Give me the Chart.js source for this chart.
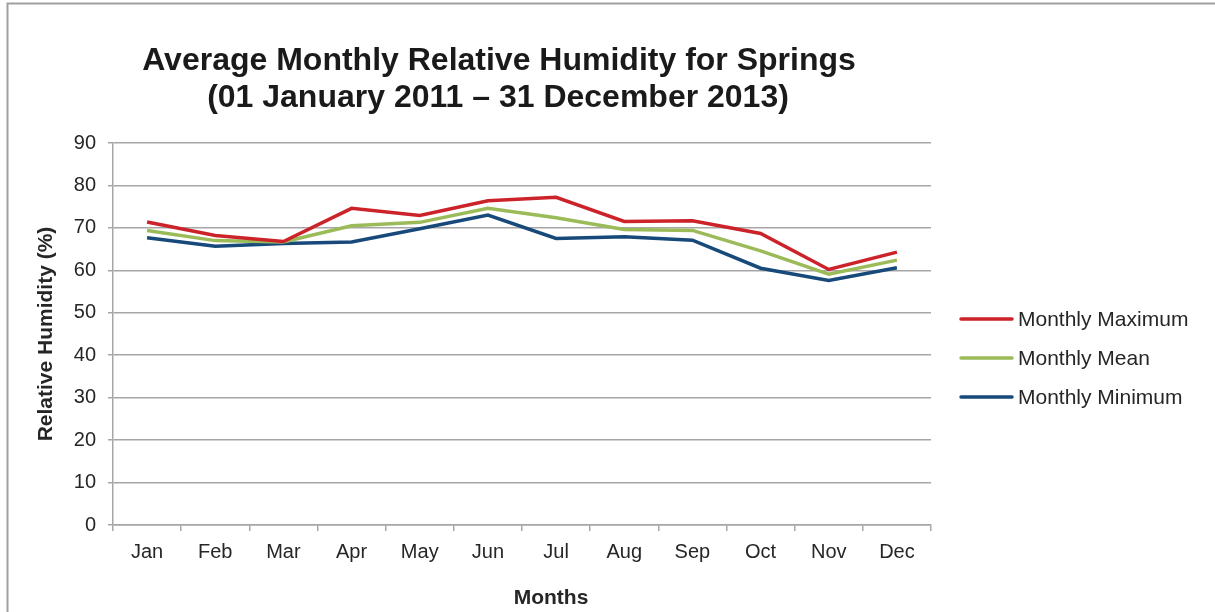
<!DOCTYPE html>
<html>
<head>
<meta charset="utf-8">
<title>Average Monthly Relative Humidity for Springs</title>
<script src="https://cdn.jsdelivr.net/npm/chart.js@4/dist/chart.umd.min.js"></script>
<style>
  html, body { margin: 0; padding: 0; background: #ffffff; }
  #wrap { position: relative; width: 1215px; height: 612px; }
  canvas { display: block; }
</style>
</head>
<body>
<div id="wrap"><canvas id="chart" width="1215" height="612"></canvas></div>
<script>
// Month categories along the x axis
const months = ['Jan', 'Feb', 'Mar', 'Apr', 'May', 'Jun', 'Jul', 'Aug', 'Sep', 'Oct', 'Nov', 'Dec'];

// Relative humidity (%) per month, 2011-2013
const monthlyMaximum = [71.4, 68.2, 66.8, 74.6, 72.9, 76.4, 77.2, 71.5, 71.7, 68.7, 60.2, 64.3];
const monthlyMean    = [69.4, 67.0, 66.7, 70.5, 71.3, 74.6, 72.4, 69.6, 69.4, 64.6, 59.1, 62.4];
const monthlyMinimum = [67.7, 65.7, 66.3, 66.7, 69.8, 73.0, 67.5, 67.9, 67.1, 60.5, 57.6, 60.6];

// Y axis range and step
const yTicks = [0, 10, 20, 30, 40, 50, 60, 70, 80, 90];

const titleLines = ['Average Monthly Relative Humidity for Springs', '(01 January 2011 \u2013 31 December 2013)'];
const xAxisTitle = 'Months';
const yAxisTitle = 'Relative Humidity (%)';
const seriesNames = ['Monthly Maximum', 'Monthly Mean', 'Monthly Minimum'];
const seriesColors = ['#CC2229', '#9BBB59', '#17497A'];

const FONT = '"Liberation Sans", Arial, sans-serif';
const TEXT = '#262626';
const GRID = '#A6A6A6';

// Frame, two-line heading, x axis caption and line legend
const decorations = {
  id: 'decorations',
  afterDraw(chart) {
    const ctx = chart.ctx;
    ctx.save();
    // outer frame (top and left edges)
    ctx.strokeStyle = '#A0A0A0';
    ctx.lineWidth = 2;
    ctx.beginPath();
    ctx.moveTo(7.5, 612);
    ctx.lineTo(7.5, 3.5);
    ctx.lineTo(1215, 3.5);
    ctx.stroke();

    // heading
    ctx.fillStyle = '#1a1a1a';
    ctx.font = 'bold 32px ' + FONT;
    ctx.textAlign = 'center';
    ctx.textBaseline = 'alphabetic';
    ctx.fillText(titleLines[0], 499, 70);
    ctx.fillText(titleLines[1], 498, 107);

    // x axis caption
    ctx.fillStyle = TEXT;
    ctx.font = 'bold 21px ' + FONT;
    ctx.textBaseline = 'middle';
    ctx.fillText(xAxisTitle, 551, 598);

    // legend
    ctx.font = '21px ' + FONT;
    ctx.textAlign = 'left';
    chart.data.datasets.forEach((ds, i) => {
      const y = 319 + i * 39;
      ctx.strokeStyle = ds.borderColor;
      ctx.lineWidth = 3.5;
      ctx.lineCap = 'round';
      ctx.beginPath();
      ctx.moveTo(961, y);
      ctx.lineTo(1012, y);
      ctx.stroke();
      ctx.fillStyle = TEXT;
      ctx.fillText(ds.label, 1018, y + 1);
    });
    ctx.restore();
  }
};

const datasets = [monthlyMaximum, monthlyMean, monthlyMinimum].map((values, i) => ({
  label: seriesNames[i],
  data: values,
  borderColor: seriesColors[i],
  backgroundColor: seriesColors[i],
  borderWidth: 3.5,
  pointRadius: 0,
  tension: 0,
  fill: false
}));

new Chart(document.getElementById('chart'), {
  type: 'line',
  data: { labels: months, datasets: datasets },
  options: {
    responsive: false,
    animation: false,
    layout: { padding: { top: 143, right: 284, left: 0, bottom: 0 } },
    plugins: {
      legend: { display: false },
      title: { display: false },
      tooltip: { enabled: false }
    },
    scales: {
      x: {
        offset: true,
        grid: { offset: true, drawOnChartArea: false, color: GRID, lineWidth: 1.5, tickLength: 6 },
        border: { color: GRID, width: 1.5 },
        ticks: { color: TEXT, font: { family: FONT, size: 20 }, padding: 9, maxRotation: 0, autoSkip: false },
        title: { display: false },
        afterFit(scale) { scale.height = 87; }
      },
      y: {
        min: yTicks[0],
        max: yTicks[yTicks.length - 1],
        afterBuildTicks(scale) { scale.ticks = yTicks.map(v => ({ value: v })); },
        grid: { color: GRID, lineWidth: 1.5, tickLength: 5 },
        border: { color: GRID, width: 1.5 },
        ticks: { color: TEXT, font: { family: FONT, size: 20 }, padding: 12 },
        title: { display: true, text: yAxisTitle, color: TEXT, font: { family: FONT, size: 21, weight: 'bold' }, padding: { top: 34, bottom: 0 } },
        afterFit(scale) { scale.width = 113; }
      }
    }
  },
  plugins: [decorations]
});
</script>
</body>
</html>
